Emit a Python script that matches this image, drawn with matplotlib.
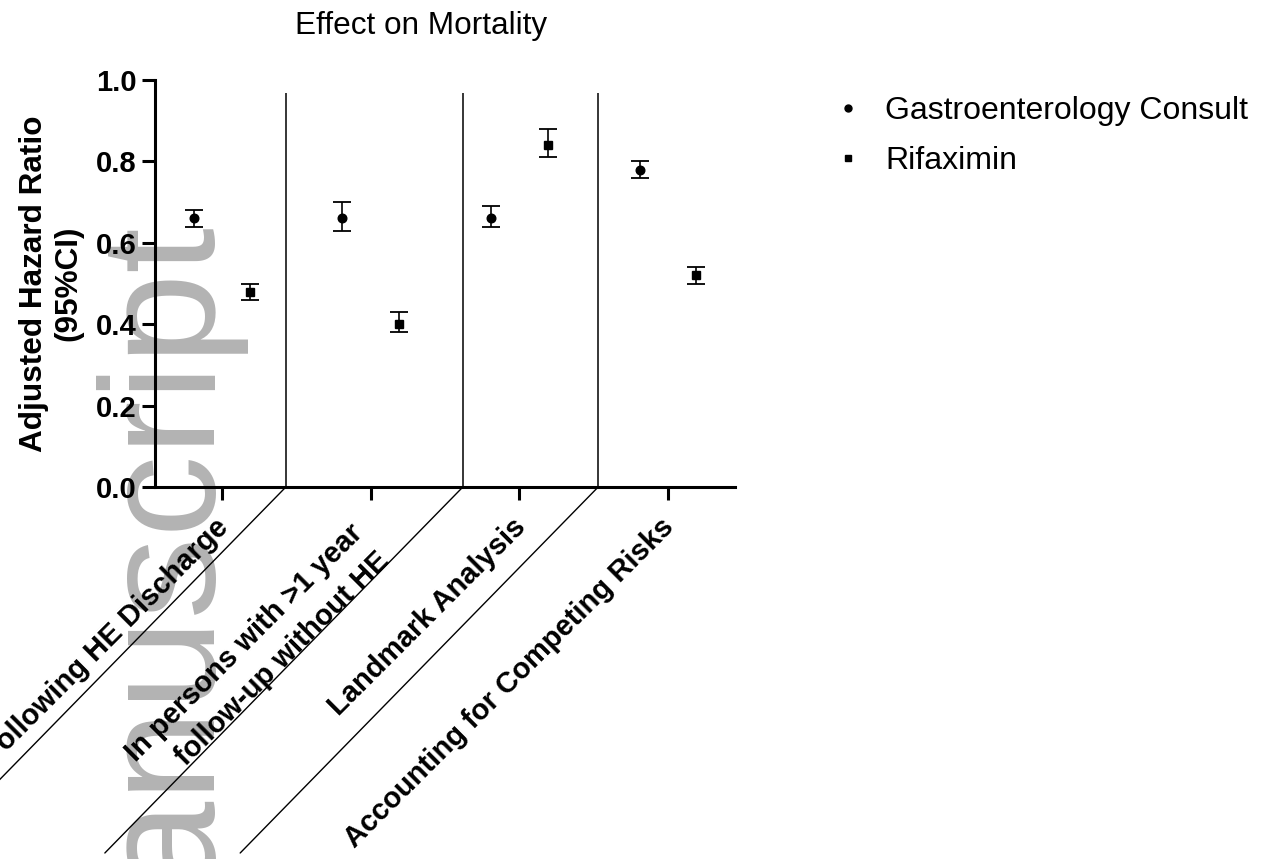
import matplotlib

matplotlib.use("Agg")
import matplotlib.pyplot as plt
import numpy as np
from matplotlib.lines import Line2D
from matplotlib.transforms import ScaledTranslation

plt.rcParams.update({
    "font.family": ["Liberation Sans", "DejaVu Sans"],
    "axes.linewidth": 2.2,
    "xtick.major.width": 2.2,
    "ytick.major.width": 2.2,
    "xtick.major.size": 9.4,
    "ytick.major.size": 9.4,
})

# --------------------------------------------------------------------------- #
# data (adjusted hazard ratios with 95% CI)                                    #
# --------------------------------------------------------------------------- #
groups = [
    "Following HE Discharge",
    "In persons with >1 year\nfollow-up without HE",
    "Landmark Analysis",
    "Accounting for Competing Risks",
]
gi_hr = [0.66, 0.66, 0.66, 0.78]
gi_lo = [0.64, 0.63, 0.64, 0.76]
gi_hi = [0.68, 0.70, 0.69, 0.80]

rif_hr = [0.48, 0.40, 0.84, 0.52]
rif_lo = [0.46, 0.38, 0.81, 0.50]
rif_hi = [0.50, 0.43, 0.88, 0.54]

series_names = ["Gastroenterology Consult", "Rifaximin"]

# section separators between the analyses (x in category units)
dividers = [0.43, 1.62, 2.53]

W, H = 1268, 859
fig = plt.figure(figsize=(W / 100, H / 100), dpi=100)
ax = fig.add_axes([155 / W, 1 - 487 / H, 580 / W, 407 / H])
ax.patch.set_alpha(0)

# watermark, drawn behind everything
fig.text(215 / W, 1 - 227 / H, "Author Manuscript", rotation=90,
         rotation_mode="anchor", ha="right", va="baseline",
         fontsize=118, color="#b3b3b3", zorder=-5)

x = np.arange(len(groups))
off = 0.19


def ci(hr, lo, hi):
    hr, lo, hi = map(np.asarray, (hr, lo, hi))
    return np.vstack([hr - lo, hi - hr])


ax.errorbar(x - off, gi_hr, yerr=ci(gi_hr, gi_lo, gi_hi), fmt="o", ms=6.2,
            color="black", elinewidth=1.2, capsize=6.5, capthick=1.3)
ax.errorbar(x + off, rif_hr, yerr=ci(rif_hr, rif_lo, rif_hi), fmt="s", ms=5.6,
            color="black", elinewidth=1.2, capsize=6.5, capthick=1.3)

ax.set_xlim(-0.45, 3.45)
ax.set_ylim(0, 1.0)
ax.set_yticks([0, 0.2, 0.4, 0.6, 0.8, 1.0])
ax.set_yticklabels(["0.0", "0.2", "0.4", "0.6", "0.8", "1.0"])
ax.spines["top"].set_visible(False)
ax.spines["right"].set_visible(False)

ax.tick_params(axis="y", labelsize=21, pad=3.6)
for t in ax.get_yticklabels():
    t.set_fontweight("bold")

ax.set_xticks(x)
ax.set_xticklabels(groups, fontsize=21, fontweight="bold")
ax.tick_params(axis="x", pad=9.4)
for i, t in enumerate(ax.get_xticklabels()):
    t.set_rotation(45)
    t.set_ha("right")
    t.set_va("top")
    t.set_rotation_mode("anchor")
    t.set_multialignment("right")
    dx, dy = -8, 0
    if "\n" in groups[i]:
        t.set_linespacing(1.45)
        dx, dy = -22, -6
    t.set_transform(t.get_transform()
                    + ScaledTranslation(dx / 100, dy / 100, fig.dpi_scale_trans))

ax.set_ylabel("Adjusted Hazard Ratio\n(95%CI)", fontsize=22.7,
              fontweight="bold", labelpad=9)

# separators: vertical in the plot, then slanted through the label area
ax.vlines(dividers, 0, 0.967, color="black", lw=1.1)
for d in dividers:
    ax.annotate("", xy=(d, 0), xycoords="data", xytext=(-358, -366),
                textcoords="offset pixels", annotation_clip=False,
                arrowprops=dict(arrowstyle="-", lw=1.0, color="black",
                                shrinkA=0, shrinkB=0))

fig.text(421 / W, 1 - 34 / H, "Effect on Mortality", ha="center",
         va="baseline", fontsize=22.7)

handles = [
    Line2D([], [], ls="none", marker="o", ms=5, color="black"),
    Line2D([], [], ls="none", marker="s", ms=4.5, color="black"),
]
fig.legend(handles, series_names, loc="upper left",
           bbox_to_anchor=(832 / W, 1 - 96 / H), frameon=False,
           fontsize=23, handlelength=1.0, handletextpad=0.66,
           borderpad=0, borderaxespad=0, labelspacing=0.64)

fig.savefig("out.png", dpi=100, facecolor="white")
